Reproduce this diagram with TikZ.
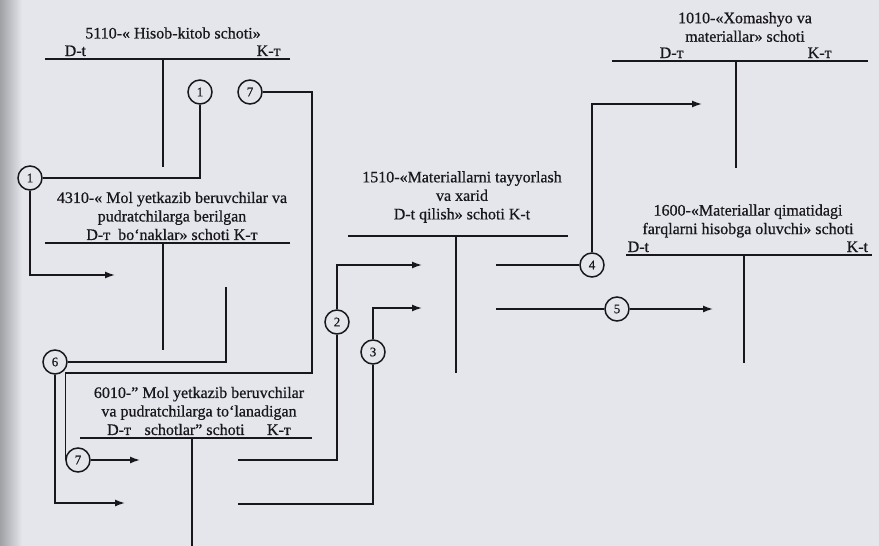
\documentclass[tikz,border=0pt]{standalone}
\usepackage{fontspec}
\setmainfont{Liberation Serif}[FakeBold=0.6]
\usetikzlibrary{arrows.meta}
\definecolor{paper}{RGB}{228,230,236}
\definecolor{ink}{RGB}{24,24,28}

\begin{document}
\begin{tikzpicture}[x=1pt, y=-1pt, color=ink, line width=1.4pt, >={Latex[length=10pt,width=7pt]}, every node/.style={font=\fontsize{16}{18.5}\selectfont}, num/.style={circle, draw, line width=1.5pt, minimum size=24pt, inner sep=0pt, fill=paper, font=\fontsize{13}{13}\selectfont}, ttl/.style={align=center, inner sep=0pt}, side/.style={anchor=base west, inner sep=0pt}]
	\fill[paper] (0,0) rectangle (879,546);
	\shade[left color=black!30!paper, right color=paper] (0,0) rectangle (22,546);
	\useasboundingbox (0,0) rectangle (879,546);
	\node[ttl] (t5110) at (173,33) {5110-« Hisob-kitob schoti»};
	\node[side] (d5110) at (64,56) {D-t};
	\node[side] (k5110) at (256,56) {K-т};
	\draw (45,59) -- (290,59);
	\draw (163,59) -- (163,167);
	\node[ttl] (t4310) at (172,216) {4310-« Mol yetkazib beruvchilar va\\ pudratchilarga berilgan\\ D-т~ bo‘naklar» schoti K-т};
	\draw (45,243) -- (290,243);
	\draw (163,243) -- (163,350);
	\node[ttl] (t6010) at (199,411) {6010-" Mol yetkazib beruvchilar\\ va pudratchilarga to‘lanadigan\\ D-т\hspace{0.6em} schotlar" schoti\hspace{1.4em}K-т};
	\draw (80,438) -- (312,438);
	\draw (192,438) -- (192,546);
	\node[ttl] (t1510) at (462,197) {1510-«Materiallarni tayyorlash\\ va xarid\\ D-t qilish» schoti K-t};
	\draw (348,236) -- (568,236);
	\draw (456,236) -- (456,373);
	\node[ttl] (t1010) at (745,27) {1010-«Xomashyo va\\ materiallar» schoti};
	\node[side] (d1010) at (659,58) {D-т};
	\node[side] (k1010) at (807,58) {K-т};
	\draw (612,61) -- (868,61);
	\draw (736,61) -- (736,168);
	\node[ttl] (t1600) at (748,221) {1600-«Materiallar qimatidagi\\ farqlarni hisobga oluvchi» schoti};
	\node[side] (d1600) at (627,252) {D-t};
	\node[side] (k1600) at (846,252) {K-t};
	\draw (626,255) -- (872,255);
	\draw (744,255) -- (744,363);
	\node[num] (n1a) at (200,92) {1};
	\node[num] (n7a) at (250,92) {7};
	\node[num] (n1b) at (30,178) {1};
	\node[num] (n6) at (55,362) {6};
	\node[num] (n7b) at (78,460) {7};
	\node[num] (n2) at (337,322) {2};
	\node[num] (n3) at (373,352) {3};
	\node[num] (n4) at (592,265) {4};
	\node[num] (n5) at (617,309) {5};
	\coordinate (a1) at (115,275);
	\coordinate (k7) at (312,373);
	\coordinate (a7) at (140,460);
	\coordinate (k6) at (226,287);
	\coordinate (a6) at (125,503);
	\coordinate (s2) at (238,460);
	\coordinate (a2) at (422,265);
	\coordinate (s3) at (238,504);
	\coordinate (a3) at (422,308);
	\coordinate (s4) at (496,265);
	\coordinate (a4) at (702,104);
	\coordinate (s5) at (496,309);
	\coordinate (a5) at (713,309);
	\draw (n1a) |- (n1b);
	\draw[->] (n1b) |- (a1);
	\draw (n7a) -| (k7) -| (n7b.west);
	\draw[->] (n7b) -- (a7);
	\draw (k6) |- (n6);
	\draw[->] (n6) |- (a6);
	\draw (s2) -| (n2);
	\draw[->] (n2) |- (a2);
	\draw (s3) -| (n3);
	\draw[->] (n3) |- (a3);
	\draw (s4) -- (n4);
	\draw[->] (n4) |- (a4);
	\draw (s5) -- (n5);
	\draw[->] (n5) -- (a5);
\end{tikzpicture}
\end{document}
